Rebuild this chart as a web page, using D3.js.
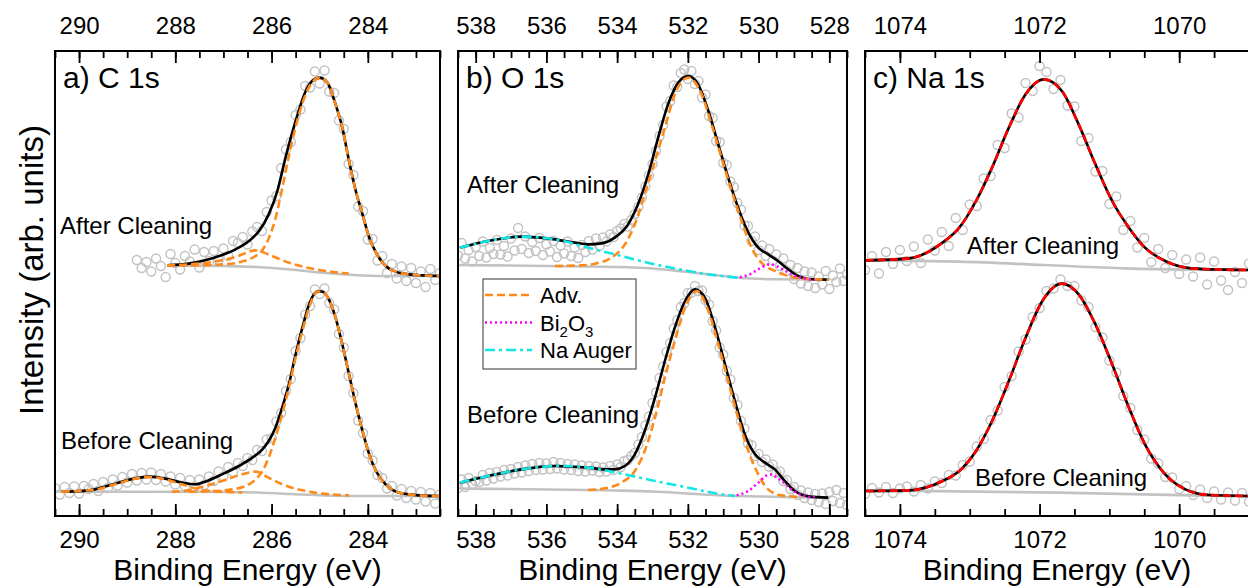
<!DOCTYPE html>
<html>
<head>
<meta charset="utf-8">
<script src="https://cdn.jsdelivr.net/npm/d3@7"></script>
<style>
  body { margin: 0; background: #fff; }
  svg { display: block; font-family: "Liberation Sans", Arial, sans-serif; }
</style>
</head>
<body>
<svg id="chart" width="1248" height="588"></svg>
<script>
// ---- measured spectra (intensity in arb. units, 0.1 eV steps) ----
// C 1s
var c1sAfterStart = 288.8;
var c1sAfterCounts = [51.2,49.6,50.8,48.9,51.5,50.0,47.8,52.4,50.6,49.3,52.0,50.9,53.3,49.7,52.8,51.0,53.0,51.2,53.5,52.0,
  55.0,54.6,55.8,54.3,56.9,57.8,57.0,60.8,63.1,64.0,69.6,73.3,74.8,80.2,81.3,86.0,85.7,88.9,86.5,89.1,
  84.9,84.6,79.1,77.4,70.4,68.2,61.9,61.0,55.3,55.4,51.1,52.0,48.6,50.4,47.5,49.9,47.0,49.6,46.6,48.9,
  45.8,49.4,47.2,48.6];
var c1sBeforeStart = 290.5;
var c1sBeforeCounts = [5.6,4.3,5.8,4.6,5.9,4.5,6.0,5.4,6.4,5.0,6.8,5.6,7.3,6.1,7.8,6.7,8.4,7.1,8.6,7.3,
  8.7,7.2,8.4,6.9,7.9,6.3,7.6,6.0,7.2,5.8,7.3,6.2,7.9,7.0,8.9,7.9,9.8,8.8,10.6,10.0,
  11.6,11.2,13.2,13.0,15.3,15.6,18.9,20.6,25.0,27.4,33.0,35.6,40.3,42.0,45.3,44.4,45.5,42.6,41.3,36.4,
  33.7,28.0,24.6,19.1,16.6,12.5,11.1,8.2,7.6,5.5,6.0,4.1,5.4,3.6,5.0,3.3,4.8,2.9,4.6,2.5,4.3];
// O 1s
var o1sAfterStart = 538.5;
var o1sAfterCounts = [52.1,54.6,51.5,53.2,50.9,53.8,52.0,54.9,51.7,53.6,52.4,55.2,52.3,54.0,51.9,55.5,53.1,57.6,53.4,55.9,
  52.6,54.8,53.0,55.6,52.2,54.3,52.9,55.0,51.8,54.1,52.5,54.9,52.0,53.7,51.6,54.2,52.8,55.0,53.3,55.5,
  54.0,55.7,54.9,56.3,55.8,57.0,57.5,58.4,57.9,59.2,60.4,61.8,63.7,65.9,68.1,70.4,73.0,76.0,78.2,81.9,
  83.0,86.1,85.8,88.6,89.3,87.4,89.0,86.4,87.0,83.7,84.3,80.0,79.6,75.0,74.8,70.6,70.2,66.9,65.8,62.6,
  61.3,58.1,58.0,55.0,55.9,53.2,54.1,52.0,53.4,51.1,52.3,50.0,51.5,49.0,50.2,47.4,49.6,46.5,48.9,46.0,
  48.7,45.6,47.9,46.3,49.0,45.4,48.1,46.8,49.5,47.0,48.3];
var o1sBeforeStart = 538.5;
var o1sBeforeCounts = [5.6,7.3,5.8,7.6,6.4,7.0,6.8,8.2,7.1,8.6,7.5,8.8,7.9,9.2,8.1,9.4,8.5,9.8,8.7,10.1,
  9.0,10.4,9.2,10.6,9.3,10.5,9.4,10.8,9.5,10.6,9.3,10.4,9.2,10.3,9.0,10.1,8.9,10.0,9.1,9.9,
  8.8,9.7,8.9,10.0,9.2,10.3,9.8,11.0,11.2,12.0,12.6,14.3,15.8,18.1,19.9,22.6,24.7,27.6,29.9,32.8,
  34.6,37.5,39.2,41.8,42.6,44.6,44.7,46.0,45.0,45.1,43.2,42.3,39.0,37.1,33.7,32.3,29.0,27.3,23.6,22.2,
  19.0,17.5,14.5,14.2,12.0,12.4,10.8,11.3,9.9,10.3,8.6,8.9,7.0,7.2,5.4,5.8,4.2,5.1,3.6,4.7,
  3.2,4.4,2.8,4.5,2.4,4.8,3.0,5.2,2.6,4.6,2.2];
// Na 1s
var na1sAfterStart = 1074.5;
var na1sAfterCounts = [49.2,52.0,48.5,52.8,50.4,53.2,51.0,53.9,50.6,55.3,53.1,56.8,54.0,59.6,57.2,62.3,62.0,67.5,68.0,74.2,
  73.6,80.5,79.7,86.6,85.0,90.0,88.8,85.4,87.2,82.1,81.9,75.0,75.6,68.9,69.0,62.4,63.9,57.2,59.0,53.7,
  55.6,50.8,53.4,49.6,52.2,48.4,51.3,47.9,51.7,46.3,50.9,47.1,45.2,48.8,46.6,50.5];
var na1sBeforeStart = 1074.5;
var na1sBeforeCounts = [4.4,5.6,4.7,5.8,4.6,5.5,5.9,4.9,6.2,5.5,6.9,6.6,8.2,8.1,10.2,10.9,13.9,15.4,19.2,21.1,
  25.8,28.0,32.9,35.3,39.8,41.6,45.0,45.5,47.3,46.0,46.0,43.1,41.8,37.8,35.7,31.1,28.7,24.0,21.6,17.2,
  15.3,11.5,10.5,7.8,7.7,5.4,6.0,4.2,5.3,3.6,4.9,3.3,4.7,3.1,4.6,2.9];

// ---- fitted curves [binding energy, intensity] ----
var c1sAfterBg = [[288.17,50.13],[287.0,50.0],[286.3,49.8],[285.6,49.3],[285.0,48.7],[284.3,48.2],[283.6,48.0],[282.5,48.0]];
var c1sAfterFit = [[288.17,50.13],[287.72,50.47],[287.38,51.13],[287.03,52.2],[286.75,53.33],[286.47,55.0],[286.26,57.0],
  [286.06,60.33],[285.88,65.0],[285.71,71.67],[285.5,79.0],[285.29,85.0],[285.12,87.33],[285.0,87.67],[284.84,86.67],
  [284.67,82.33],[284.53,77.67],[284.39,71.0],[284.25,65.0],[284.11,60.33],[283.97,55.67],[283.83,52.67],[283.63,50.0],
  [283.42,48.87],[283.14,48.33],[282.86,48.13],[282.51,48.0]];
var c1sAfterAdvMain = [[288.17,50.13],[287.72,50.13],[287.03,50.3],[286.61,50.9],[286.37,51.8],[286.19,53.2],[286.06,55.5],
  [285.92,59.5],[285.78,65.5],[285.64,72.0],[285.5,77.8],[285.36,82.5],[285.22,85.8],[285.0,87.67],[284.84,86.67],
  [284.67,82.33],[284.53,77.67],[284.39,71.0],[284.25,65.0],[284.11,60.33],[283.97,55.67],[283.83,52.67],[283.63,50.0],
  [283.42,48.87],[283.14,48.33],[282.86,48.13],[282.51,48.0]];
var c1sAfterAdvCO = [[288.17,50.13],[287.38,50.6],[286.75,51.8],[286.33,53.13],[285.99,52.0],[285.64,50.67],[285.08,49.33],[284.6,48.67],[284.4,48.5]];

var c1sBeforeBg = [[290.5,4.9],[287.0,4.8],[286.3,4.7],[285.6,4.4],[284.9,4.1],[284.0,4.0],[282.5,4.0]];
var c1sBeforeFit = [[290.36,4.87],[290.08,4.93],[289.67,5.33],[289.25,6.47],[288.83,7.53],[288.52,7.87],[288.21,7.47],
  [287.86,6.67],[287.58,6.33],[287.38,6.87],[287.03,8.33],[286.68,10.0],[286.4,11.67],[286.19,13.33],[286.06,15.0],
  [285.92,17.67],[285.78,21.67],[285.64,26.33],[285.5,32.33],[285.36,37.67],[285.22,42.33],[285.05,44.9],[284.95,44.9],
  [284.81,43.33],[284.67,39.67],[284.53,34.33],[284.39,28.33],[284.25,22.33],[284.11,17.0],[283.97,12.33],[283.83,9.0],
  [283.63,6.33],[283.42,4.87],[283.14,4.33],[282.86,4.07],[282.51,4.0]];
var c1sBeforeAdvMain = [[287.72,4.87],[287.17,5.0],[286.82,5.33],[286.54,6.0],[286.33,7.33],[286.19,9.0],[286.06,11.67],
  [285.92,15.67],[285.78,20.33],[285.64,25.67],[285.5,31.67],[285.36,37.0],[285.22,41.67],[285.05,44.9],[284.95,44.9],
  [284.81,43.33],[284.67,39.67],[284.53,34.33],[284.39,28.33],[284.25,22.33],[284.11,17.0],[283.97,12.33],[283.83,9.0],
  [283.63,6.33],[283.42,4.87],[283.14,4.33],[282.86,4.07],[282.51,4.0]];
var c1sBeforeAdvCO = [[288.07,4.87],[287.72,5.13],[287.38,6.0],[287.03,7.0],[286.61,8.33],[286.33,8.87],[286.06,7.67],
  [285.78,6.33],[285.36,5.13],[284.94,4.47],[284.39,4.13]];
var c1sBeforeAdvOCO = [[290.36,4.87],[289.67,5.27],[289.25,6.33],[288.83,7.47],[288.52,7.8],[288.21,7.33],[287.86,6.33],
  [287.51,5.33],[287.17,4.93],[286.61,4.73]];

var o1sAfterBg = [[538.5,50.2],[536,50.0],[534,49.8],[533,49.5],[532,48.8],[531,48.0],[530.5,47.6],[529.5,47.35],[528,47.27]];
var o1sAfterAuger = [[538.45,53.67],[537.65,55.0],[536.71,55.87],[535.76,55.33],[534.82,53.67],[533.88,52.0],[532.93,50.33],
  [531.99,49.0],[531.05,48.0],[530.58,47.67]];
var o1sAfterAdv = [[535.76,50.0],[535.01,50.13],[534.63,50.47],[534.16,51.67],[533.78,54.33],[533.5,58.33],[533.22,64.33],
  [532.93,71.0],[532.65,77.67],[532.37,84.33],[531.99,87.67],[531.61,84.33],[531.33,78.33],[531.05,71.67],[530.76,65.0],
  [530.48,59.0],[530.2,53.67],[529.92,50.67],[529.54,49.0],[529.16,48.0],[528.69,47.4],[528.03,47.27]];
var o1sAfterBi2O3 = [[530.67,47.67],[530.29,48.2],[530.01,49.33],[529.68,50.33],[529.4,49.67],[529.07,48.33],[528.78,47.6],[528.41,47.27]];
var o1sAfterFit = [[538.45,53.67],[537.65,55.0],[536.71,55.87],[535.76,55.33],[535.2,54.67],[534.82,54.33],[534.44,54.53],
  [534.07,55.67],[533.69,58.33],[533.41,62.33],[533.12,68.33],[532.84,75.67],[532.56,82.33],[532.27,86.67],[531.99,88.0],
  [531.71,86.33],[531.42,81.0],[531.14,74.33],[530.86,67.67],[530.58,61.67],[530.29,56.67],[530.01,53.67],[529.73,52.33],
  [529.45,51.0],[529.16,49.33],[528.88,48.0],[528.59,47.4],[528.03,47.27]];

var o1sBeforeBg = [[538.5,5.5],[536,5.3],[534,5.1],[533,4.9],[532,4.5],[531,4.1],[530,3.9],[529,3.75],[528,3.65]];
var o1sBeforeAuger = [[538.45,6.67],[537.65,8.0],[536.71,9.33],[535.76,10.0],[535.58,10.05],[534.82,9.67],[533.88,8.47],
  [532.93,7.0],[531.99,5.67],[531.05,4.33],[530.67,4.0]];
var o1sBeforeAdv = [[534.82,5.2],[534.35,5.53],[533.88,6.67],[533.5,9.0],[533.22,13.0],[532.93,19.67],[532.65,27.67],
  [532.37,35.0],[532.08,41.67],[531.75,45.0],[531.42,41.0],[531.14,34.33],[530.86,27.0],[530.58,19.67],[530.29,13.0],
  [530.01,8.33],[529.73,5.33],[529.35,4.13],[528.78,3.8]];
var o1sBeforeBi2O3 = [[530.76,4.0],[530.29,5.0],[530.01,6.67],[529.68,8.33],[529.35,7.0],[529.07,5.33],[528.69,4.0],[528.41,3.73]];
var o1sBeforeFit = [[538.45,6.67],[537.65,8.0],[536.71,9.33],[535.76,10.0],[534.82,9.67],[534.35,9.33],[534.07,9.33],
  [533.78,10.0],[533.5,12.33],[533.22,17.0],[532.93,23.67],[532.65,31.0],[532.37,37.67],[532.08,43.0],[531.8,45.33],
  [531.52,43.67],[531.23,37.67],[530.95,30.33],[530.67,23.0],[530.39,16.33],[530.1,12.33],[529.82,10.67],[529.54,9.33],
  [529.26,7.0],[528.97,5.0],[528.59,3.93],[528.03,3.67]];

var na1sAfterBg = [[1074.49,51.13],[1073.15,50.87],[1071.94,50.2],[1070.77,49.53],[1069.82,49.27],[1069.0,49.2]];
var na1sAfterFit = [[1074.49,51.13],[1073.87,51.53],[1073.39,54.67],[1073.15,57.67],[1072.91,63.0],[1072.68,69.67],
  [1072.44,77.67],[1072.2,84.33],[1071.94,87.33],[1071.68,85.0],[1071.44,78.33],[1071.2,70.33],[1070.96,63.0],
  [1070.72,57.67],[1070.49,53.67],[1070.2,51.0],[1069.82,49.53],[1069.34,49.27],[1069.0,49.2]];
var na1sBeforeBg = [[1074.49,5.13],[1071.72,4.67],[1069.82,4.13],[1069.0,3.93]];
var na1sBeforeFit = [[1074.49,5.0],[1073.87,5.13],[1073.39,7.0],[1073.15,9.0],[1072.91,13.0],[1072.68,19.0],[1072.44,27.0],
  [1072.2,35.67],[1071.96,43.0],[1071.68,46.47],[1071.44,44.33],[1071.2,38.33],[1070.96,30.33],[1070.72,21.67],
  [1070.49,14.33],[1070.2,8.33],[1069.91,5.33],[1069.58,4.2],[1069.0,4.0]];

// tick labels
var c1sTicks = [290, 288, 286, 284];
var o1sTicks = [538, 536, 534, 532, 530, 528];
var na1sTicks = [1074, 1072, 1070];

(function () {
  var ORANGE = "#ff8a1c", MAGENTA = "#ff00ff", CYAN = "#14e6e6", GREY = "#c2c2c2";

  var svg = d3.select("#chart");
  var yTop = 51, yBottom = 516;
  var y = d3.scaleLinear().domain([0, 93]).range([yBottom, yTop]);

  function grid(start, counts) {
    return counts.map(function (v, i) { return [+(start - i * 0.1).toFixed(2), v]; });
  }

  var panels = [
    {id: "a", x0: 55, x1: 440, dom: [290.5, 282.5], ticks: c1sTicks, label: "a) C 1s",
      scatter: [grid(c1sAfterStart, c1sAfterCounts), grid(c1sBeforeStart, c1sBeforeCounts)],
      bg: [c1sAfterBg, c1sBeforeBg], fit: [c1sAfterFit, c1sBeforeFit],
      comps: [
        {d: c1sAfterAdvMain, c: ORANGE, dash: "8,4"}, {d: c1sAfterAdvCO, c: ORANGE, dash: "8,4"},
        {d: c1sBeforeAdvMain, c: ORANGE, dash: "8,4"}, {d: c1sBeforeAdvCO, c: ORANGE, dash: "8,4"},
        {d: c1sBeforeAdvOCO, c: ORANGE, dash: "8,4"}],
      texts: [{t: "After Cleaning", x: 60, y: 234}, {t: "Before Cleaning", x: 61, y: 449}]},
    {id: "b", x0: 458, x1: 847, dom: [538.5, 527.5], ticks: o1sTicks, label: "b) O 1s",
      scatter: [grid(o1sAfterStart, o1sAfterCounts), grid(o1sBeforeStart, o1sBeforeCounts)],
      bg: [o1sAfterBg, o1sBeforeBg], fit: [o1sAfterFit, o1sBeforeFit],
      comps: [
        {d: o1sAfterAdv, c: ORANGE, dash: "8,4"}, {d: o1sAfterBi2O3, c: MAGENTA, dash: "2,3"},
        {d: o1sAfterAuger, c: CYAN, dash: "10,4,3,4"},
        {d: o1sBeforeAdv, c: ORANGE, dash: "8,4"}, {d: o1sBeforeBi2O3, c: MAGENTA, dash: "2,3"},
        {d: o1sBeforeAuger, c: CYAN, dash: "10,4,3,4"}],
      texts: [{t: "After Cleaning", x: 467, y: 193}, {t: "Before Cleaning", x: 467, y: 423}]},
    {id: "c", x0: 865, x1: 1249, dom: [1074.5, 1069.0], ticks: na1sTicks, label: "c) Na 1s",
      scatter: [grid(na1sAfterStart, na1sAfterCounts), grid(na1sBeforeStart, na1sBeforeCounts)],
      bg: [na1sAfterBg, na1sBeforeBg], fit: [na1sAfterFit, na1sBeforeFit],
      comps: [{d: na1sAfterFit, c: "#ff0000", dash: "8,4"}, {d: na1sBeforeFit, c: "#ff0000", dash: "8,4"}],
      texts: [{t: "After Cleaning", x: 967, y: 254}, {t: "Before Cleaning", x: 975, y: 486}]}
  ];

  panels.forEach(function (p) {
    var x = d3.scaleLinear().domain(p.dom).range([p.x0, p.x1]);
    var g = svg.append("g");

    g.append("clipPath").attr("id", "clip-" + p.id)
      .append("rect").attr("x", p.x0).attr("y", yTop).attr("width", p.x1 - p.x0).attr("height", yBottom - yTop);

    var plot = g.append("g").attr("clip-path", "url(#clip-" + p.id + ")");
    var line = d3.line()
      .x(function (d) { return x(d[0]); })
      .y(function (d) { return y(d[1]); })
      .curve(d3.curveMonotoneX);
    function sorted(a) { return a.slice().sort(function (m, n) { return n[0] - m[0]; }); }

    p.scatter.forEach(function (s) {
      plot.selectAll(null).data(s).enter().append("circle")
        .attr("cx", function (d) { return x(d[0]); })
        .attr("cy", function (d) { return y(d[1]); })
        .attr("r", 4.5)
        .attr("fill", "none")
        .attr("stroke", GREY)
        .attr("stroke-width", 1.4);
    });
    p.bg.forEach(function (b) {
      plot.append("path").attr("d", line(sorted(b)))
        .attr("fill", "none").attr("stroke", GREY).attr("stroke-width", 2.6);
    });
    p.fit.forEach(function (f) {
      plot.append("path").attr("d", line(sorted(f)))
        .attr("fill", "none").attr("stroke", "#000").attr("stroke-width", 2.6);
    });
    p.comps.forEach(function (c) {
      plot.append("path").attr("d", line(sorted(c.d)))
        .attr("fill", "none").attr("stroke", c.c).attr("stroke-width", 2.6)
        .attr("stroke-dasharray", c.dash);
    });

    // axes with inward ticks, top and bottom
    var minor = d3.range(Math.ceil(p.dom[1] * 2) / 2, p.dom[0] + 0.01, 0.5);
    var axB = d3.axisBottom(x).tickValues(p.ticks).tickSize(-12).tickPadding(15).tickFormat(d3.format("d"));
    var axT = d3.axisTop(x).tickValues(p.ticks).tickSize(-12).tickPadding(17).tickFormat(d3.format("d"));
    var axBm = d3.axisBottom(x).tickValues(minor).tickSize(-7).tickFormat("");
    var axTm = d3.axisTop(x).tickValues(minor).tickSize(-7).tickFormat("");
    [[axB, yBottom], [axT, yTop], [axBm, yBottom], [axTm, yTop]].forEach(function (a) {
      var ag = g.append("g").attr("transform", "translate(0," + a[1] + ")").call(a[0]);
      ag.select(".domain").remove();
      ag.selectAll("line").attr("stroke", "#000").attr("stroke-width", 1.8);
      ag.selectAll("text").attr("font-size", 24).attr("fill", "#000")
        .attr("font-family", "Liberation Sans, Arial, sans-serif");
    });

    g.append("rect").attr("x", p.x0).attr("y", yTop)
      .attr("width", p.x1 - p.x0).attr("height", yBottom - yTop)
      .attr("fill", "none").attr("stroke", "#000").attr("stroke-width", 2);

    g.append("text").attr("x", p.x0 + 8).attr("y", 88).attr("font-size", 30).text(p.label);
    p.texts.forEach(function (t) {
      g.append("text").attr("x", t.x).attr("y", t.y).attr("font-size", 24).text(t.t);
    });
    g.append("text").attr("x", (p.x0 + p.x1) / 2).attr("y", 580)
      .attr("text-anchor", "middle").attr("font-size", 30).text("Binding Energy (eV)");
  });

  // y title
  svg.append("text").attr("transform", "translate(43,270) rotate(-90)")
    .attr("text-anchor", "middle").attr("font-size", 33).text("Intensity (arb. units)");

  // legend in O 1s panel
  var legendItems = [
    {name: "Adv.", c: ORANGE, dash: "8,4"},
    {name: "Bi2O3", c: MAGENTA, dash: "2,3"},
    {name: "Na Auger", c: CYAN, dash: "10,4,3,4"}
  ];
  var lg = svg.append("g");
  lg.append("rect").attr("x", 483).attr("y", 279).attr("width", 153).attr("height", 90)
    .attr("fill", "#fff").attr("stroke", "#555").attr("stroke-width", 1.2);
  legendItems.forEach(function (d, i) {
    var cy = 295 + i * 27.5;
    lg.append("line").attr("x1", 485).attr("x2", 532).attr("y1", cy).attr("y2", cy)
      .attr("stroke", d.c).attr("stroke-width", 2.6).attr("stroke-dasharray", d.dash);
    var t = lg.append("text").attr("x", 540).attr("y", cy + 8).attr("font-size", 22);
    if (d.name === "Bi2O3") {
      t.append("tspan").text("Bi");
      t.append("tspan").attr("font-size", 15).attr("dy", 6).text("2");
      t.append("tspan").attr("dy", -6).text("O");
      t.append("tspan").attr("font-size", 15).attr("dy", 6).text("3");
    } else {
      t.text(d.name);
    }
  });
})();
</script>
</body>
</html>
